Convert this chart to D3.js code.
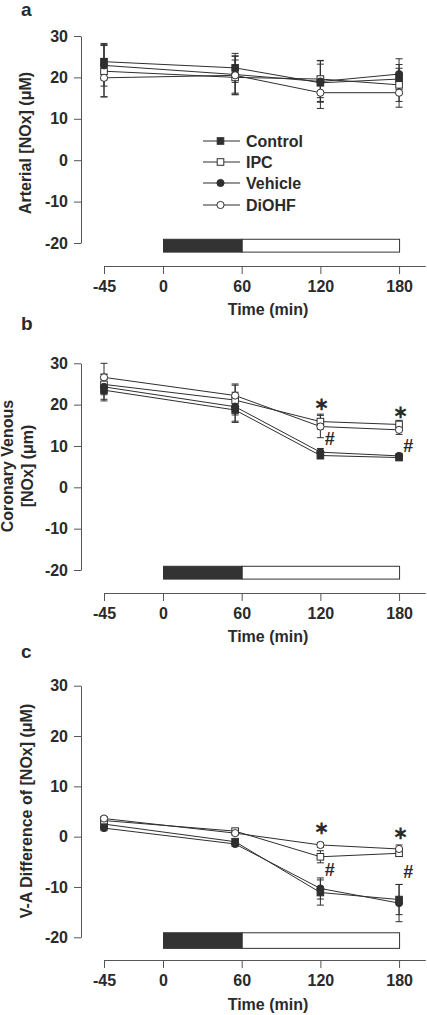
<!DOCTYPE html>
<html><head><meta charset="utf-8">
<script src="https://cdn.jsdelivr.net/npm/d3@7"></script>
<style>
body{margin:0;background:#fff;}
svg{display:block;}
text{font-family:"Liberation Sans",Arial,sans-serif;font-weight:bold;fill:#2a2a2a;}
</style></head>
<body>
<svg id="chart" width="427" height="1015"></svg>
<script>
// ---------- DATA ----------
const times = [-45, 55, 120, 180];
const seriesNames = ["Control", "IPC", "Vehicle", "DiOHF"];
const xTicks = [-45, 0, 60, 120, 180];
const yTicks = [30, 20, 10, 0, -10, -20];
const barSegments = [[0, 60], [60, 180]];

// Panel a: Arterial [NOx]
const aControl = [23.8, 22.3, 18.7, 19.6];
const aIPC     = [21.5, 20.0, 19.6, 18.2];
const aVehicle = [22.9, 20.7, 19.0, 20.8];
const aDiOHF   = [19.9, 20.5, 16.3, 16.3];
const aControlErr = [4.4, 3.5, 4.5, 3.5];
const aIPCErr     = [6.2, 4.2, 4.5, 4.0];
const aVehicleErr = [5.0, 4.5, 5.0, 3.7];
const aDiOHFErr   = [4.6, 4.6, 3.8, 3.5];

// Panel b: Coronary venous [NOx]
const bControl = [23.5, 18.7, 7.7, 7.2];
const bIPC     = [24.9, 21.1, 15.9, 15.2];
const bVehicle = [24.3, 19.5, 8.5, 7.6];
const bDiOHF   = [26.6, 22.2, 14.7, 13.9];
const bControlErr = [2.6, 3.0, 0.8, 0.6];
const bIPCErr     = [2.5, 3.6, 1.8, 1.0];
const bVehicleErr = [3.0, 3.5, 0.9, 0.6];
const bDiOHFErr   = [3.4, 2.8, 2.7, 1.1];

// Panel c: V-A difference of [NOx]
const cControl = [2.5, -1.0, -11.1, -12.5];
const cIPC     = [3.2, 1.1, -4.0, -3.3];
const cVehicle = [1.7, -1.45, -10.3, -13.2];
const cDiOHF   = [3.6, 0.7, -1.65, -2.45];
const cControlErr = [0.5, 0.5, 2.5, 3.0];
const cIPCErr     = [0.4, 0.5, 1.2, 0.6];
const cVehicleErr = [0.5, 0.5, 2.1, 3.7];
const cDiOHFErr   = [0.4, 0.4, 0.5, 0.8];

// significance marks: [time, value position]
const bStars  = [[120, 19.8], [180, 17.9]];
const bHashes = [[120, 11.8], [180, 10.1]];
const cStars  = [[120, 1.5], [180, 0.55]];
const cHashes = [[120, -6.7], [180, -7.0]];

// ---------- LAYOUT ----------
const ink = "#2f2f2f";
const svg = d3.select("#chart");
const x = d3.scaleLinear().domain([-45, 200]).range([104, 425.3]);

const panels = [
  {label:"a", labelY:16, top:36, bottom:243, axisY:266, titleY:314.5,
   ytitle:["Arterial [NOx] (\u03bcM)"], ytitleX:[31], ytitleY:143,
   series:[[aControl,aControlErr],[aIPC,aIPCErr],[aVehicle,aVehicleErr],[aDiOHF,aDiOHFErr]],
   stars:[], hashes:[], legend:true},
  {label:"b", labelY:330, top:363.3, bottom:570, axisY:593, titleY:641.5,
   ytitle:["Coronary Venous","[NOx] (\u03bcm)"], ytitleX:[12.5,32.5], ytitleY:466,
   series:[[bControl,bControlErr],[bIPC,bIPCErr],[bVehicle,bVehicleErr],[bDiOHF,bDiOHFErr]],
   stars:bStars, hashes:bHashes, legend:false},
  {label:"c", labelY:658, top:685.7, bottom:937.3, axisY:960, titleY:1010,
   ytitle:["V-A Difference of [NOx] (\u03bcM)"], ytitleX:[31.5], ytitleY:811,
   series:[[cControl,cControlErr],[cIPC,cIPCErr],[cVehicle,cVehicleErr],[cDiOHF,cDiOHFErr]],
   stars:cStars, hashes:cHashes, legend:false}
];

// marker styles: [shape, filled]
const markerStyle = [["square",true],["square",false],["circle",true],["circle",false]];

function drawMarker(g, shape, filled, cx, cy) {
  if (shape === "square") {
    g.append("rect").attr("x", cx-3.3).attr("y", cy-3.3).attr("width", 6.6).attr("height", 6.6)
      .attr("fill", filled ? ink : "#fff").attr("stroke", ink).attr("stroke-width", 1);
  } else {
    g.append("circle").attr("cx", cx).attr("cy", cy).attr("r", 3.6)
      .attr("fill", filled ? ink : "#fff").attr("stroke", ink).attr("stroke-width", 1);
  }
}

const fmt = d => String(d);

panels.forEach(p => {
  const y = d3.scaleLinear().domain([-20, 30]).range([p.bottom, p.top]);
  const g = svg.append("g");

  // panel label
  g.append("text").attr("x", 21).attr("y", p.labelY).attr("font-size", 19).text(p.label);

  // y axis
  const ya = g.append("g").attr("transform", "translate(81,0)")
    .call(d3.axisLeft(y).tickValues(yTicks).tickFormat(fmt).tickSize(7).tickPadding(6).tickSizeOuter(0));
  ya.selectAll("text").attr("font-size", 16).attr("font-family", "Liberation Sans, Arial, sans-serif")
    .attr("font-weight", "bold").attr("fill", "#2a2a2a");
  ya.selectAll("path,line").attr("stroke", "#555");

  // x axis
  const xa = g.append("g").attr("transform", `translate(0,${p.axisY})`)
    .call(d3.axisBottom(x).tickValues(xTicks).tickFormat(fmt).tickSize(8).tickPadding(7).tickSizeOuter(0));
  xa.selectAll("text").attr("font-size", 16).attr("font-family", "Liberation Sans, Arial, sans-serif")
    .attr("font-weight", "bold").attr("fill", "#2a2a2a");
  xa.selectAll("path,line").attr("stroke", "#555");

  // x title
  g.append("text").attr("x", 268).attr("y", p.titleY).attr("text-anchor", "middle")
    .attr("font-size", 16).text("Time (min)");

  // y title
  p.ytitle.forEach((t, i) => {
    g.append("text").attr("transform", `translate(${p.ytitleX[i]},${p.ytitleY}) rotate(-90)`)
      .attr("text-anchor", "middle").attr("font-size", 16).text(t);
  });

  // ischemia/reperfusion bar
  barSegments.forEach((s, i) => {
    g.append("rect").attr("x", x(s[0]) + 0.5).attr("width", x(s[1]) - x(s[0]))
      .attr("y", y(-19.1)).attr("height", y(-22.2) - y(-19.1))
      .attr("fill", i === 0 ? "#333" : "#fff").attr("stroke", "#333").attr("stroke-width", 1);
  });

  // lines
  const line = d3.line().x((d, i) => x(times[i])).y(d => y(d));
  p.series.forEach(([vals]) => {
    g.append("path").attr("d", line(vals)).attr("fill", "none").attr("stroke", ink).attr("stroke-width", 1);
  });

  // error bars
  p.series.forEach(([vals, errs]) => {
    vals.forEach((v, i) => {
      const cx = x(times[i]);
      const y1 = y(v + errs[i]), y2 = y(v - errs[i]);
      g.append("line").attr("x1", cx).attr("x2", cx).attr("y1", y1).attr("y2", y2)
        .attr("stroke", ink).attr("stroke-width", 1);
      [y1, y2].forEach(yy => g.append("line").attr("x1", cx-3.5).attr("x2", cx+3.5)
        .attr("y1", yy).attr("y2", yy).attr("stroke", ink).attr("stroke-width", 1));
    });
  });

  // markers
  p.series.forEach(([vals], si) => {
    vals.forEach((v, i) => drawMarker(g, markerStyle[si][0], markerStyle[si][1], x(times[i]), y(v)));
  });

  // significance marks
  p.stars.forEach(([t, v]) => {
    g.append("text").attr("x", x(t) + 1).attr("y", y(v) + 5).attr("text-anchor", "middle")
      .attr("font-family", "DejaVu Sans, sans-serif").attr("font-weight", "normal")
      .attr("font-size", 18).attr("fill", "#666").text("\u2217");
  });
  p.hashes.forEach(([t, v]) => {
    g.append("text").attr("x", x(t) + 9).attr("y", y(v) + 6).attr("text-anchor", "middle")
      .attr("font-family", "Liberation Serif, serif").attr("font-weight", "normal").attr("font-style", "italic")
      .attr("font-size", 18).attr("fill", "#444").text("#");
  });

  // legend
  if (p.legend) {
    const rows = [141, 162, 183, 205];
    seriesNames.forEach((name, si) => {
      const ry = rows[si];
      g.append("line").attr("x1", 203).attr("x2", 240).attr("y1", ry).attr("y2", ry)
        .attr("stroke", ink).attr("stroke-width", 1);
      drawMarker(g, markerStyle[si][0], markerStyle[si][1], 220.5, ry);
      g.append("text").attr("x", 246).attr("y", ry + 5.7).attr("font-size", 16).text(name);
    });
  }
});
</script>
</body></html>
